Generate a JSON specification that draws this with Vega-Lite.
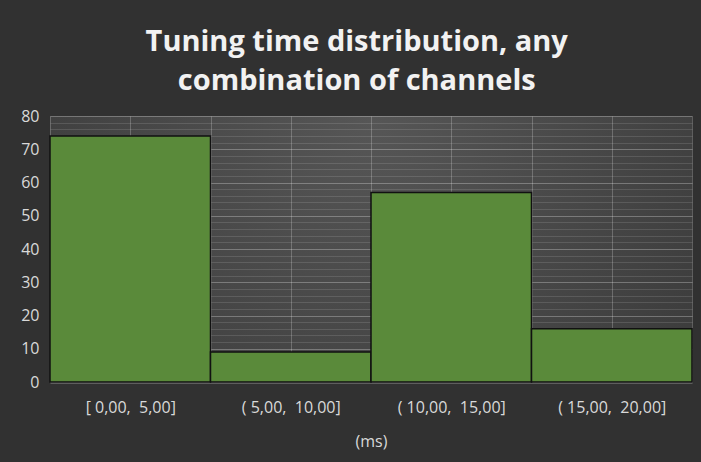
{
  "$schema": "https://vega.github.io/schema/vega-lite/v6.json",
  "width": 642,
  "height": 266,
  "autosize": "none",
  "padding": {"left": 50, "top": 116, "right": 9, "bottom": 80},
  "background": "#313131",
  "title": {
    "text": ["Tuning time distribution, any", "combination of channels"],
    "font": "Open Sans",
    "fontSize": 29,
    "fontWeight": "bold",
    "color": "#f2f2f2",
    "lineHeight": 39,
    "anchor": "middle",
    "frame": "bounds",
    "offset": 12
  },
  "data": {
    "values": [
      {"bin": "[ 0,00,  5,00]", "start": 0, "end": 5, "count": 74},
      {"bin": "( 5,00,  10,00]", "start": 5, "end": 10, "count": 9},
      {"bin": "( 10,00,  15,00]", "start": 10, "end": 15, "count": 57},
      {"bin": "( 15,00,  20,00]", "start": 15, "end": 20, "count": 16}
    ]
  },
  "mark": {"type": "rect", "fill": "#5a8a3a", "stroke": "#111111", "strokeWidth": 1.5},
  "encoding": {
    "x": {
      "field": "start",
      "type": "quantitative",
      "scale": {"domain": [0, 20], "nice": false, "zero": false},
      "axis": {
        "values": [0, 2.5, 5, 7.5, 10, 12.5, 15, 17.5, 20],
        "labelExpr": "datum.value == 2.5 ? '[ 0,00,\u00a0 5,00]' : datum.value == 7.5 ? '( 5,00,\u00a0 10,00]' : datum.value == 12.5 ? '( 10,00,\u00a0 15,00]' : datum.value == 17.5 ? '( 15,00,\u00a0 20,00]' : ''",
        "title": "(ms)",
        "titleFont": "Open Sans",
        "titleFontSize": 16,
        "titleFontWeight": "normal",
        "titleColor": "#d9d9d9",
        "titlePadding": 18,
        "labelFont": "Open Sans",
        "labelFontSize": 16,
        "labelColor": "#d9d9d9",
        "labelPadding": 17,
        "labelFlush": false,
        "ticks": false,
        "grid": true,
        "gridColor": "#ffffff",
        "gridOpacity": 0.22,
        "gridWidth": 1,
        "domain": true,
        "domainColor": "#8c8c8c",
        "domainWidth": 2
      }
    },
    "x2": {"field": "end"},
    "y": {
      "field": "count",
      "type": "quantitative",
      "scale": {"domain": [0, 80], "nice": false},
      "axis": {
        "values": [0, 2, 4, 6, 8, 10, 12, 14, 16, 18, 20, 22, 24, 26, 28, 30, 32, 34, 36, 38, 40, 42, 44, 46, 48, 50, 52, 54, 56, 58, 60, 62, 64, 66, 68, 70, 72, 74, 76, 78, 80],
        "labelExpr": "datum.value % 10 == 0 ? datum.label : ''",
        "title": null,
        "labelFont": "Open Sans",
        "labelFontSize": 16,
        "labelColor": "#d9d9d9",
        "labelPadding": 11,
        "ticks": false,
        "domain": false,
        "grid": true,
        "gridColor": "#ffffff",
        "gridOpacity": {"condition": {"test": "datum.value % 10 == 0", "value": 0.28}, "value": 0.12},
        "gridWidth": 1.2
      }
    },
    "y2": {"datum": 0}
  },
  "config": {
    "view": {
      "stroke": null,
      "fill": {
        "gradient": "radial",
        "x1": 0.5, "y1": 0.3, "r1": 0,
        "x2": 0.5, "y2": 0.3, "r2": 0.8,
        "stops": [
          {"offset": 0, "color": "#565656"},
          {"offset": 1, "color": "#343434"}
        ]
      }
    }
  }
}
